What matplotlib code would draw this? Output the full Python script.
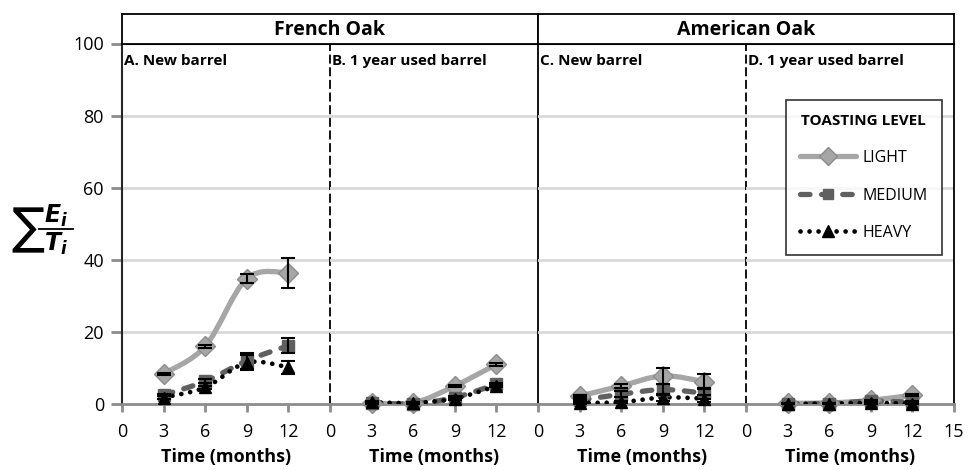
import numpy as np
import matplotlib
matplotlib.use("Agg")
import matplotlib.pyplot as plt
from matplotlib.path import Path
from matplotlib.patches import PathPatch
from matplotlib.lines import Line2D

plt.rcParams['font.family'] = ['Open Sans', 'DejaVu Sans']

# data
months = [3, 6, 9, 12]
panels = ["A. New barrel", "B. 1 year used barrel", "C. New barrel", "D. 1 year used barrel"]
oaks = ["French Oak", "American Oak"]
levels = ["LIGHT", "MEDIUM", "HEAVY"]

light = [[8.4, 16.0, 34.8, 36.4],
         [0.3, 0.3, 5.0, 11.0],
         [2.2, 5.0, 7.8, 6.2],
         [0.2, 0.3, 1.0, 2.5]]
medium = [[2.5, 6.3, 12.0, 16.2],
          [0.3, 0.1, 1.8, 5.5],
          [1.0, 2.7, 4.0, 3.0],
          [0.1, 0.1, 0.8, 0.5]]
heavy = [[1.8, 4.6, 11.5, 10.2],
         [0.5, 0.3, 1.5, 5.0],
         [0.3, 0.5, 1.8, 1.5],
         [0.1, 0.1, 0.3, 0.1]]

light_err = [[0.3, 0.4, 1.3, 4.2],
             [0.2, 0.2, 0.3, 0.4],
             [0.3, 0.5, 2.2, 2.0],
             [0.1, 0.1, 0.2, 0.3]]
medium_err = [[0.3, 0.5, 2.2, 2.0],
              [0.2, 0.2, 0.3, 0.4],
              [0.3, 0.8, 1.5, 1.5],
              [0.1, 0.1, 0.2, 0.2]]
heavy_err = [[0.3, 0.5, 2.0, 1.8],
             [0.2, 0.2, 0.3, 0.4],
             [0.2, 0.3, 1.0, 1.0],
             [0.1, 0.1, 0.2, 0.2]]

styles = {
    "LIGHT": dict(color="#a6a6a6", ls="-", lw=3.8, marker="D", ms=10, mfc="#a6a6a6", mec="#8c8c8c"),
    "MEDIUM": dict(color="#606060", ls=(0, (1.8, 2.2)), lw=3.8, marker="s", ms=8.5, mfc="#606060", mec="#606060"),
    "HEAVY": dict(color="black", ls=(0, (0.01, 1.9)), lw=3.4, marker="^", ms=9, mfc="black", mec="black"),
}


def smooth_line(ax, x, y, st):
    # Excel style smoothed line: Catmull-Rom segments as cubic Bezier
    p = np.column_stack([x, y]).astype(float)
    n = len(p)
    verts = [p[0]]
    codes = [Path.MOVETO]
    for i in range(n - 1):
        p0 = p[i - 1] if i > 0 else p[i]
        p3 = p[i + 2] if i + 2 < n else p[i + 1]
        c1 = p[i] + (p[i + 1] - p0) / 6
        c2 = p[i + 1] - (p3 - p[i]) / 6
        verts += [c1, c2, p[i + 1]]
        codes += [Path.CURVE4] * 3
    patch = PathPatch(Path(verts, codes), fill=False, edgecolor=st["color"],
                      linewidth=st["lw"], linestyle=st["ls"], capstyle="round",
                      joinstyle="round", zorder=3)
    ax.add_patch(patch)


fig = plt.figure(figsize=(9.68, 4.70), dpi=100)

left, right = 122 / 968, 954 / 968
bottom, top = 1 - 404 / 470, 1 - 43.5 / 470
head_top = 1 - 14 / 470
pw = (right - left) / 4

axes = []
for k in range(4):
    ax = fig.add_axes([left + k * pw, bottom, pw, top - bottom])
    axes.append(ax)
    ax.set_xlim(0, 15)
    ax.set_ylim(0, 100)
    ax.set_yticks([0, 20, 40, 60, 80, 100])
    for g in [20, 40, 60, 80]:
        ax.axhline(g, color="#d9d9d9", lw=2, zorder=0)
    if k == 3:
        ax.set_xticks([0, 3, 6, 9, 12, 15])
    else:
        ax.set_xticks([0, 3, 6, 9, 12])
    ax.tick_params(axis="x", direction="out", length=6, width=2, color="#8c8c8c",
                   labelsize=13, pad=8)
    if k == 0:
        ax.tick_params(axis="y", direction="out", length=8, width=2, color="#8c8c8c",
                       labelsize=13, pad=5)
        ax.spines["left"].set_color("#262626")
        ax.spines["left"].set_linewidth(1.5)
    else:
        ax.tick_params(axis="y", left=False, labelleft=False)
        ax.spines["left"].set_visible(False)
    ax.spines["bottom"].set_color("#8c8c8c")
    ax.spines["bottom"].set_linewidth(2)
    ax.spines["top"].set_color("black")
    ax.spines["top"].set_linewidth(1.5)
    ax.spines["right"].set_color("black")
    ax.spines["right"].set_linewidth(1.3)
    if k in (0, 2):
        ax.spines["right"].set_linestyle((0, (4, 3)))
    ax.patch.set_alpha(0)
    ax.set_xlabel("Time (months)", fontsize=13, fontweight="bold", labelpad=5)
    ax.text(0.012, 0.972, panels[k], transform=ax.transAxes, fontsize=11,
            fontweight="bold", va="top", ha="left")

    for name, vals, errs in [("LIGHT", light, light_err), ("MEDIUM", medium, medium_err),
                             ("HEAVY", heavy, heavy_err)]:
        st = styles[name]
        smooth_line(ax, months, vals[k], st)
        ax.plot(months, vals[k], ls="none", marker=st["marker"], ms=st["ms"],
                mfc=st["mfc"], mec=st["mec"], mew=1, zorder=4, clip_on=False)
        ax.errorbar(months, vals[k], yerr=errs[k], fmt="none", ecolor="black",
                    elinewidth=1.5, capsize=5, capthick=1.5, zorder=5)

# oak header boxes
for j in range(2):
    hx = fig.add_axes([left + 2 * j * pw, top, 2 * pw, head_top - top])
    hx.set_xticks([])
    hx.set_yticks([])
    for s in hx.spines.values():
        s.set_color("black")
        s.set_linewidth(1.3)
    hx.text(0.5, 0.45, oaks[j], transform=hx.transAxes, ha="center", va="center",
            fontsize=14, fontweight="bold")

# y label: sum sign + fraction E_i / T_i
fig.text(11 / 968, 1 - 230 / 470, r"$\sum$", fontsize=25, ha="left", va="center")
fig.text(56 / 968, 1 - 229 / 470, r"$\mathbfit{E_i}$", fontsize=17, ha="center", va="bottom")
fig.text(56 / 968, 1 - 231 / 470, r"$\mathbfit{T_i}$", fontsize=17, ha="center", va="top")
fig.add_artist(Line2D([39 / 968, 73 / 968], [1 - 229 / 470, 1 - 229 / 470],
                      transform=fig.transFigure, color="black", lw=1.3))

handles = []
for name in levels:
    st = styles[name]
    handles.append(Line2D([], [], color=st["color"], ls=st["ls"], lw=st["lw"],
                          marker=st["marker"], ms=st["ms"] * 0.9, mfc=st["mfc"], mec=st["mec"],
                          dash_capstyle="round", solid_capstyle="round"))
leg = fig.legend(handles, levels, title="TOASTING LEVEL", loc="upper right",
                 bbox_to_anchor=(942 / 968, 1 - 100 / 470), borderaxespad=0, fontsize=11.5,
                 title_fontproperties={"weight": "bold", "size": 11},
                 frameon=True, fancybox=False, edgecolor="black", handlelength=3.5,
                 labelspacing=1.35, borderpad=0.9, handletextpad=0.4)
leg.get_frame().set_linewidth(1.2)

fig.savefig("out.png", dpi=100)
